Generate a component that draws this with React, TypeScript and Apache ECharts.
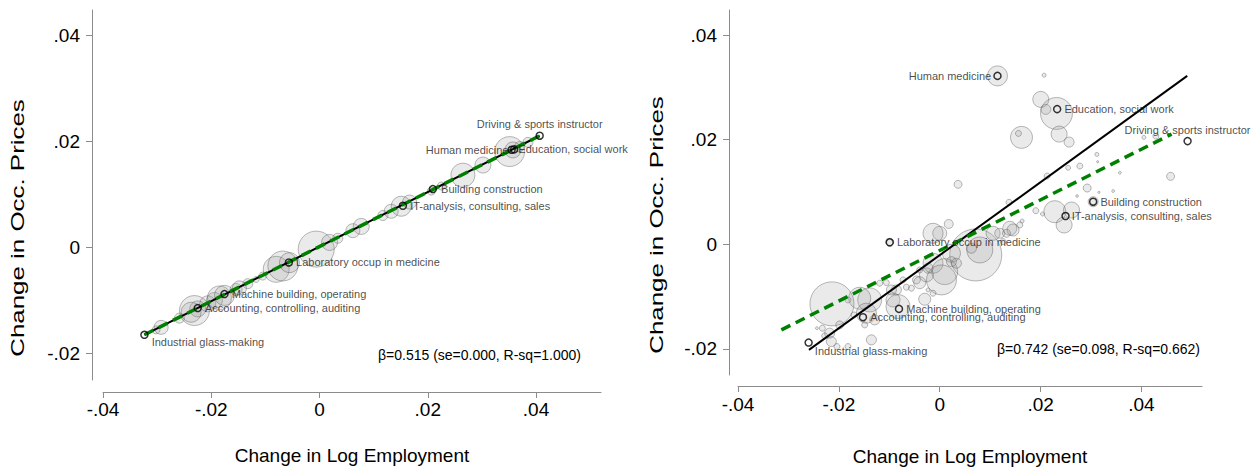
import React, { useEffect, useRef } from "react";
import * as echarts from "echarts";

// ---------- data ----------
const xTicks = [-0.04, -0.02, 0, 0.02, 0.04];
const yTicks = [-0.02, 0, 0.02, 0.04];

// Left panel: bubbles (x = change in log employment, y = change in occ. prices, w = employment weight)
const leftBubbleX = [-0.0302, -0.02926, -0.02588, -0.02311, -0.0225, -0.02372, -0.02065, -0.01941, -0.01848, -0.01756, -0.0154, -0.01479, -0.01325, -0.0117, -0.01048, -0.008, -0.00678, -0.00555, -0.00061, 0.00185, 0.00338, 0.00616, 0.00771, 0.0117, 0.01325, 0.0151, 0.01664, 0.02065, 0.0225, 0.02649, 0.03019, 0.03512, 0.03573, 0.03697, 0.0385];
const leftBubbleY = [-0.01555, -0.01507, -0.01333, -0.0119, -0.01159, -0.01222, -0.01063, -0.01, -0.00952, -0.00904, -0.00793, -0.00762, -0.00683, -0.00603, -0.0054, -0.00412, -0.00349, -0.00286, -0.00031, 0.00095, 0.00174, 0.00317, 0.00397, 0.00603, 0.00683, 0.00778, 0.00857, 0.01063, 0.01159, 0.01364, 0.01555, 0.01809, 0.0184, 0.01904, 0.01983];
const leftBubbleW = [16, 49, 25, 225, 64, 100, 64, 64, 144, 100, 36, 49, 25, 9, 16, 169, 225, 100, 324, 64, 25, 49, 64, 25, 49, 100, 49, 16, 16, 144, 64, 225, 64, 25, 25];

// Right panel: bubbles
const rightBubbleX = [0.01145, 0.0207, 0.02004, 0.02103, 0.02315, 0.01621, 0.01561, 0.02367, 0.02565, 0.04048, 0.04286, 0.03115, 0.03129, 0.02778, 0.02546, 0.03571, 0.04577, 0.02129, 0.02923, 0.03155, 0.03438, 0.02724, 0.03042, 0.01375, 0.02282, 0.02613, 0.02466, 0.01905, 0.02038, 0.01633, 0.00363, 0.00179, 0, -0.00133, -0.00992, 0.00714, 0.00232, -0.00133, 0.00099, -0.00264, 0.00232, 0.00331, 0.00034, -0.00462, -0.00562, -0.00728, -0.00232, -0.00133, -0.00298, -0.00661, -0.00859, -0.01058, -0.00927, -0.00827, -0.01389, -0.01587, -0.01454, -0.0129, -0.01488, -0.017, -0.01819, -0.02137, -0.01984, -0.02327, -0.02435, -0.02183, -0.02149, -0.02282, -0.02038, -0.01819, -0.01355, -0.0119, -0.00958, -0.00397, -0.00397, -0.00232, 0.00794, 0.01058, 0.0119, 0.01389, 0.01454, 0.01323, 0.01587, 0.01256, 0.00629];
const rightBubbleY = [0.0322, 0.03234, 0.0277, 0.02579, 0.02502, 0.02044, 0.0212, 0.02107, 0.01954, 0.02044, 0.02069, 0.01719, 0.01578, 0.01496, 0.01463, 0.01368, 0.01299, 0.01305, 0.01075, 0.00993, 0.01018, 0.00923, 0.00814, 0.00802, 0.00623, 0.00655, 0.00369, 0.00642, 0.00579, 0.00445, 0.01146, 0.00388, 0.0021, 0.0021, 0.00038, -0.00204, -0.00172, -0.00363, -0.00523, -0.00586, -0.00332, -0.00363, -0.00682, -0.00682, -0.0084, -0.00682, -0.00873, -0.00936, -0.01051, -0.00821, -0.00873, -0.00734, -0.01064, -0.01192, -0.01064, -0.01032, -0.01318, -0.01446, -0.01542, -0.01351, -0.01064, -0.0114, -0.01542, -0.01605, -0.01605, -0.017, -0.01861, -0.01752, -0.01956, -0.01956, -0.01828, -0.00745, -0.00873, -0.00734, -0.00491, -0.00458, -0.00109, 0.0021, 0.0021, 0.00306, 0.00273, 0.0021, 0.00369, 0.0005, -0.00076];
const rightBubbleW = [100, 4, 64, 25, 256, 121, 9, 64, 25, 4, 9, 4, 1, 9, 6, 2, 16, 9, 16, 1, 2, 1.5, 25, 9, 121, 64, 64, 9, 4, 4, 16, 20, 49, 100, 16, 676, 81, 100, 169, 49, 25, 25, 225, 16, 9, 9, 4, 9, 36, 9, 25, 9, 49, 144, 144, 121, 100, 25, 9, 9, 9, 484, 16, 9, 2, 25, 25, 9, 9, 9, 25, 9, 25, 36, 9, 25, 169, 49, 25, 49, 36, 16, 9, 9, 25];

// Labelled occupations
const labelNames = [
  "Industrial glass-making",
  "Accounting, controlling, auditing",
  "Machine building, operating",
  "Laboratory occup in medicine",
  "IT-analysis, consulting, sales",
  "Building construction",
  "Human medicine",
  "Education, social work",
  "Driving & sports instructor",
];
const leftLabelX = [-0.03235, -0.0225, -0.01756, -0.00567, 0.0154, 0.02094, 0.03549, 0.03595, 0.04067];
const leftLabelY = [-0.01647, -0.01143, -0.00879, -0.00283, 0.00787, 0.01102, 0.01843, 0.0185, 0.02108];
const rightLabelX = [-0.026, -0.01522, -0.00808, -0.00992, 0.02494, 0.03042, 0.01145, 0.02328, 0.04914];
const rightLabelY = [-0.0188, -0.01395, -0.01236, 0.00038, 0.0054, 0.00814, 0.0322, 0.02584, 0.01973];

// Fitted lines (end points)
const leftFitX = [-0.03235, 0.04067];
const leftFitY = [-0.01647, 0.02108];
const leftRefX = [-0.03235, 0.04067];
const leftRefY = [-0.01647, 0.02108];
const rightFitX = [-0.02593, 0.04907];
const rightFitY = [-0.02019, 0.0322];
const rightRefX = [-0.0314, 0.04597];
const rightRefY = [-0.01637, 0.02107];

const leftStat = "β=0.515 (se=0.000, R-sq=1.000)";
const rightStat = "β=0.742 (se=0.098, R-sq=0.662)";
const xTitle = "Change in Log Employment";
const yTitle = "Change in Occ. Prices";

// ---------- styling ----------
const FONT = '"Liberation Sans", Arial, Helvetica, sans-serif';
const AXIS_COLOR = "#8c8c8c";

type Place = { position: string; distance: number; offset?: number[] };
const leftPlace: Record<string, Place> = {
  "Industrial glass-making": { position: "right", distance: 3, offset: [0, 7] },
  "Accounting, controlling, auditing": { position: "right", distance: 3 },
  "Machine building, operating": { position: "right", distance: 3 },
  "Laboratory occup in medicine": { position: "right", distance: 3 },
  "IT-analysis, consulting, sales": { position: "right", distance: 3 },
  "Building construction": { position: "right", distance: 4 },
  "Human medicine": { position: "left", distance: -1 },
  "Education, social work": { position: "right", distance: 0 },
  "Driving & sports instructor": { position: "top", distance: 2 },
};
const rightPlace: Record<string, Place> = {
  "Industrial glass-making": { position: "right", distance: 2, offset: [0, 8] },
  "Accounting, controlling, auditing": { position: "right", distance: 3 },
  "Machine building, operating": { position: "right", distance: 3 },
  "Laboratory occup in medicine": { position: "right", distance: 3 },
  "IT-analysis, consulting, sales": { position: "right", distance: 2 },
  "Building construction": { position: "right", distance: 3 },
  "Human medicine": { position: "left", distance: 2 },
  "Education, social work": { position: "right", distance: 3 },
  "Driving & sports instructor": { position: "top", distance: 1 },
};

function fmt(v: number): string {
  if (Math.abs(v) < 1e-9) return "0";
  const s = Math.abs(v).toFixed(2).replace(/^0/, "");
  return (v < 0 ? "-" : "") + s;
}

function xAxisCfg(gridIndex: number, offset: number, margin: number) {
  return {
    type: "value",
    gridIndex,
    min: -0.04,
    max: 0.052,
    offset,
    axisLine: { show: true, onZero: false, lineStyle: { color: AXIS_COLOR, width: 1 } },
    axisTick: { show: true, length: 6, customValues: xTicks, lineStyle: { color: AXIS_COLOR } },
    axisLabel: { customValues: xTicks, formatter: fmt, fontSize: 19, fontFamily: FONT, color: "#000", margin },
    splitLine: { show: false },
  };
}
function yAxisCfg(gridIndex: number, offset: number) {
  return {
    type: "value",
    gridIndex,
    min: -0.025,
    max: 0.0448,
    offset,
    axisLine: { show: true, onZero: false, lineStyle: { color: AXIS_COLOR, width: 1 } },
    axisTick: { show: true, length: 6, customValues: yTicks, lineStyle: { color: AXIS_COLOR } },
    axisLabel: { customValues: yTicks, formatter: fmt, fontSize: 19, fontFamily: FONT, color: "#000", margin: 12 },
    splitLine: { show: false },
  };
}

function bubbles(xs: number[], ys: number[], ws: number[], idx: number) {
  return {
    type: "scatter",
    xAxisIndex: idx,
    yAxisIndex: idx,
    data: xs.map((x, i) => [x, ys[i], ws[i]]),
    symbol: "circle",
    symbolSize: (v: number[]) => 2 * Math.sqrt(v[2]),
    itemStyle: { color: "rgba(150,150,150,0.25)", borderColor: "rgba(80,80,80,0.5)", borderWidth: 1 },
    silent: true,
    z: 2,
  };
}
function line(xs: number[], ys: number[], idx: number, color: string, width: number, dashed: boolean, z: number) {
  return {
    type: "line",
    xAxisIndex: idx,
    yAxisIndex: idx,
    data: xs.map((x, i) => [x, ys[i]]),
    symbol: "none",
    lineStyle: { color, width, type: dashed ? [10, 6] : "solid", cap: "butt" },
    silent: true,
    z,
  };
}
function labelled(xs: number[], ys: number[], idx: number, place: Record<string, Place>) {
  return {
    type: "scatter",
    xAxisIndex: idx,
    yAxisIndex: idx,
    symbol: "circle",
    symbolSize: 7,
    itemStyle: { color: "rgba(255,255,255,0)", borderColor: "#000", borderWidth: 1.5 },
    data: labelNames.map((n, i) => ({
      name: n,
      value: [xs[i], ys[i]],
      label: {
        show: true,
        formatter: n,
        position: place[n].position,
        distance: place[n].distance,
        offset: place[n].offset || [0, 0],
        fontSize: 11,
        fontFamily: FONT,
        color: "#1a1a1a",
      },
    })),
    silent: true,
    z: 10,
  };
}

export default function App() {
  const ref = useRef<HTMLDivElement>(null);
  useEffect(() => {
    if (!ref.current) return;
    const chart = echarts.init(ref.current, null, { renderer: "svg" });
    const textStyle = (size: number) => ({ fontSize: size, fontFamily: FONT, fill: "#000" });
    chart.setOption({
      animation: false,
      backgroundColor: "#fff",
      grid: [
        { left: 103, top: 10, width: 498, height: 370 },
        { left: 738, top: 10, width: 464, height: 365 },
      ],
      xAxis: [xAxisCfg(0, 12, 8), xAxisCfg(1, 11, 9)],
      yAxis: [yAxisCfg(0, 11), yAxisCfg(1, 9)],
      series: [
        bubbles(leftBubbleX, leftBubbleY, leftBubbleW, 0),
        line(leftFitX, leftFitY, 0, "#000", 2, false, 5),
        line(leftRefX, leftRefY, 0, "#008000", 3.5, true, 6),
        labelled(leftLabelX, leftLabelY, 0, leftPlace),
        bubbles(rightBubbleX, rightBubbleY, rightBubbleW, 1),
        line(rightFitX, rightFitY, 1, "#000", 2, false, 5),
        line(rightRefX, rightRefY, 1, "#008000", 3.5, true, 6),
        labelled(rightLabelX, rightLabelY, 1, rightPlace),
      ],
      graphic: [
        { type: "text", x: 352, y: 455, style: { ...textStyle(19), text: xTitle, align: "center", verticalAlign: "middle" } },
        { type: "text", x: 970, y: 456, style: { ...textStyle(19), text: xTitle, align: "center", verticalAlign: "middle" } },
        { type: "text", x: 18, y: 228, rotation: Math.PI / 2, scaleX: 1.4, style: { ...textStyle(18.5), text: yTitle, align: "center", verticalAlign: "middle" } },
        { type: "text", x: 657, y: 225, rotation: Math.PI / 2, scaleX: 1.4, style: { ...textStyle(18.5), text: yTitle, align: "center", verticalAlign: "middle" } },
        { type: "text", x: 378, y: 355, style: { ...textStyle(14), text: leftStat, align: "left", verticalAlign: "middle" } },
        { type: "text", x: 997, y: 349, style: { ...textStyle(14), text: rightStat, align: "left", verticalAlign: "middle" } },
      ],
    });
    return () => chart.dispose();
  }, []);
  return <div ref={ref} style={{ position: "fixed", left: 0, top: 0, width: 1254, height: 468 }} />;
}
